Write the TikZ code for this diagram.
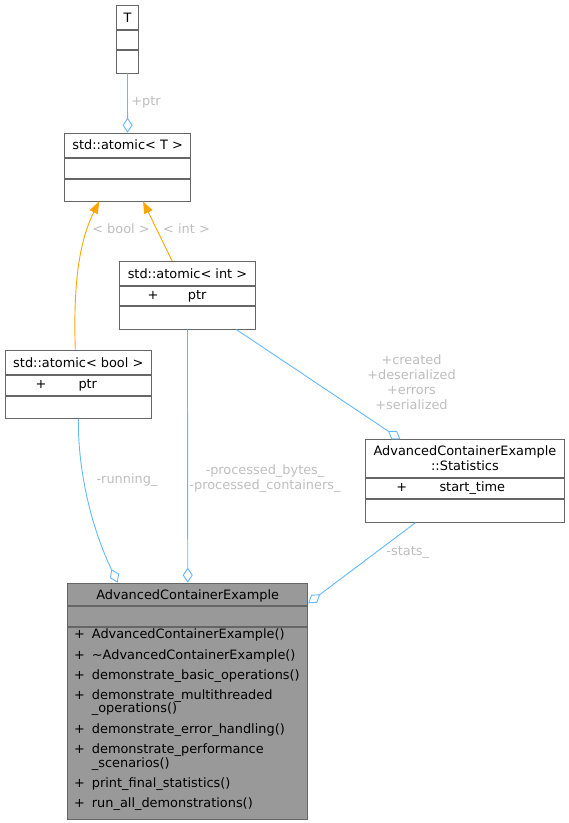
\documentclass[tikz,border=0pt]{standalone}
\usepackage{fontspec}
\setmainfont{DejaVu Sans}
\usetikzlibrary{arrows.meta}

\definecolor{boxline}{HTML}{666666}
\definecolor{acefill}{HTML}{999999}
\definecolor{edgeblue}{HTML}{63B8FF}
\definecolor{edgeorange}{HTML}{FFA500}
\definecolor{lblgray}{HTML}{BEBEBE}

\newcommand{\mplus}{\makebox[17.7pt][l]{+}}
\newcommand{\mcont}{\hspace*{17.7pt}}

\tikzset{
  cell/.style={draw=boxline, fill=white, line width=0.9pt, inner sep=0pt, anchor=north},
  ttl/.style={cell, text height=9.4pt, text depth=0pt},
  txt/.style={inner sep=0pt, text height=9.4pt, text depth=0pt},
  lbl/.style={txt, text=lblgray},
  lblm/.style={inner sep=0pt, align=center, text=lblgray},
  assoc/.style={draw=edgeblue, line width=0.9pt, -{Diamond[open,length=15pt,width=10pt]}},
  inherit/.style={draw=edgeorange, line width=0.9pt, -{Triangle[length=12pt,width=9pt]}},
}

\begin{document}
\begin{tikzpicture}[x=1pt, y=-1pt, font=\fontsize{12.9}{14.8}\selectfont]
	\useasboundingbox (0,0) rectangle (569,823);
	
	% Classes
	\node[ttl, minimum width=22.6, minimum height=24.3, anchor=north west] (Tt) at (115.7,5) {T};
	\node[cell, minimum width=22.6, minimum height=19] (Ta) at (Tt.south) {};
	\node[cell, minimum width=22.6, minimum height=22.4] (Tm) at (Ta.south) {};
	
	\node[ttl, minimum width=125.7, minimum height=24, anchor=north west] (aTt) at (64.3,132.7) {std::atomic< T >};
	\node[cell, minimum width=125.7, minimum height=20] (aTa) at (aTt.south) {};
	\node[cell, minimum width=125.7, minimum height=22] (aTm) at (aTa.south) {};
	
	\node[ttl, minimum width=135.4, minimum height=24, anchor=north west] (aIt) at (119.3,261) {std::atomic< int >};
	\node[cell, minimum width=135.4, minimum height=19.3] (aIa) at (aIt.south) {};
	\node[cell, minimum width=135.4, minimum height=22.4] (aIm) at (aIa.south) {};
	\node[txt] (aIplus) at (153,294.7) {+};
	\node[txt, anchor=west] (aIptr) at (187.7,294.7) {ptr};
	
	\node[ttl, minimum width=145.7, minimum height=24, anchor=north west] (aBt) at (5,350) {std::atomic< bool >};
	\node[cell, minimum width=145.7, minimum height=20] (aBa) at (aBt.south) {};
	\node[cell, minimum width=145.7, minimum height=22] (aBm) at (aBa.south) {};
	\node[txt] (aBplus) at (41,384) {+};
	\node[txt, anchor=west] (aBptr) at (78.3,384) {ptr};
	
	\node[cell, minimum width=199, minimum height=37.4, align=center, anchor=north west] (st) at (365,439.3) {AdvancedContainerExample\\::Statistics};
	\node[cell, minimum width=199, minimum height=20] (sa) at (st.south) {};
	\node[cell, minimum width=199, minimum height=23.3] (sm) at (sa.south) {};
	\node[txt] (splus) at (401.7,486.7) {+};
	\node[txt, anchor=west] (stime) at (439.3,486.7) {start\_time};
	
	\node[ttl, fill=acefill, minimum width=240, minimum height=22.3, anchor=north west] (acet) at (67.3,582.7) {AdvancedContainerExample};
	\node[cell, fill=acefill, minimum width=240, minimum height=20] (acea) at (acet.south) {};
	\node[cell, fill=acefill, minimum width=240, minimum height=192.3] (acem) at (acea.south) {};
	\foreach \y/\txt [count=\i] in {
		634/{\mplus AdvancedContainerExample()},
		654.3/{\mplus \textasciitilde AdvancedContainerExample()},
		674.5/{\mplus demonstrate\_basic\_operations()},
		694.5/{\mplus demonstrate\_multithreaded},
		708/{\mcont \_operations()},
		728.5/{\mplus demonstrate\_error\_handling()},
		749/{\mplus demonstrate\_performance},
		762.5/{\mcont \_scenarios()},
		782.7/{\mplus print\_final\_statistics()},
		802.8/{\mplus run\_all\_demonstrations()}}
		\node[txt, anchor=west] (meth\i) at (74,\y) {\txt};
	
	% Inheritance
	\draw[inherit] ([xshift=-3pt]aBt.north) .. controls (73,280) and (80,240) .. ([xshift=-28.5pt]aTm.south);
	\draw[inherit] ([xshift=-15.3pt]aIt.north) -- ([xshift=15.5pt]aTm.south);
	
	% Members
	\draw[assoc] (Tm.south) -- (aTt.north);
	\draw[assoc] (aIm.south) -- (acet.north);
	\draw[assoc] ([xshift=48.7pt]aIm.south) -- ([xshift=-64.5pt]st.north);
	\draw[assoc] (aBm.south) .. controls (78,480) and (95,535) .. ([xshift=-70pt]acet.north);
	\draw[assoc] ([xshift=-49.5pt]sm.south) -- ([yshift=-9pt]acet.east);
	
	% Labels
	\node[lbl] (lptr) at (146,100.7) {+ptr};
	\node[lbl] (lbool) at (121,228.7) {< bool >};
	\node[lbl] (lint) at (186.5,228.7) {< int >};
	\node[lblm] (lproc) at (265,479) {-processed\_bytes\_\\-processed\_containers\_};
	\node[lblm] (lcnt) at (411.5,382) {+created\\+deserialized\\+errors\\+serialized};
	\node[lbl] (lrun) at (127,479) {-running\_};
	\node[lbl] (lstats) at (407.7,550.7) {-stats\_};
\end{tikzpicture}
\end{document}
